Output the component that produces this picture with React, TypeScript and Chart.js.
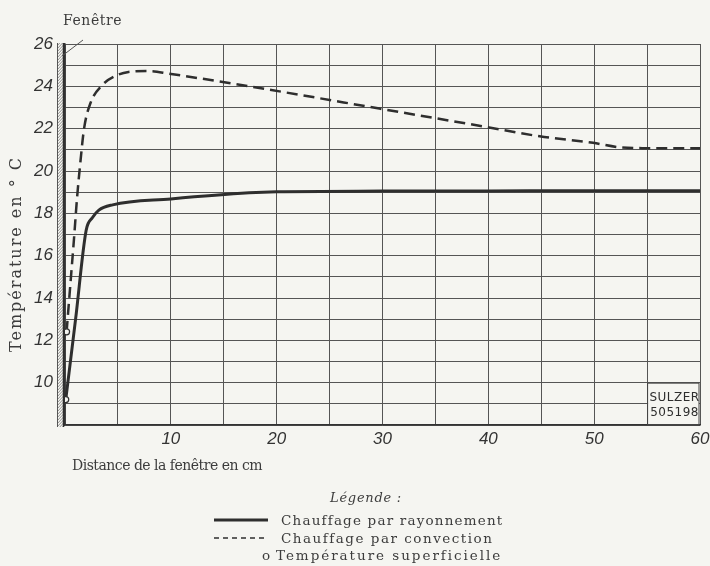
import React, { useEffect, useRef } from "react";
import { Chart, registerables } from "chart.js";

Chart.register(...registerables);

// Distance (cm) and temperature (°C)
const radiantX = [0.07, 1.0, 2.0, 2.6, 3.2, 4.5, 10, 17.4, 20, 30, 40, 50, 60];
const radiantY = [9.2, 13.0, 17.2, 17.8, 18.15, 18.4, 18.68, 18.97, 19.02, 19.05, 19.06, 19.07, 19.07];

const convX = [0.15, 0.5, 0.85, 1.15, 1.45, 1.8, 2.4, 3.5, 4.8, 6.0, 8.0, 9.8, 17.4, 29.7, 39.8, 44.85, 49.9, 52.4, 55, 60];
const convY = [12.4, 14.6, 16.8, 18.8, 20.4, 22.0, 23.2, 24.05, 24.5, 24.68, 24.72, 24.6, 24.0, 22.95, 22.08, 21.64, 21.33, 21.12, 21.08, 21.08];

const xTickLabels = [10, 20, 30, 40, 50, 60];
const yTickLabels = [10, 12, 14, 16, 18, 20, 22, 24, 26];

const titleWindow = "Fenêtre";
const titleY = "Température en ° C";
const titleX = "Distance de la fenêtre en cm";
const legendTitle = "Légende :";
const legendRadiant = "Chauffage par rayonnement";
const legendConv = "Chauffage par convection";
const legendSurface = "Température superficielle";
const stampTop = "SULZER";
const stampBottom = "505198";

const BG = "#f5f5f1";
const INK = "#2e2e2e";
const TEXT = "#3c3c3c";

function fitText(ctx: CanvasRenderingContext2D, text: string, x: number, y: number, font: string, width: number) {
  ctx.font = font;
  (ctx as any).letterSpacing = "0px";
  const w = ctx.measureText(text).width;
  const ls = Math.max(-1, (width - w) / text.length);
  (ctx as any).letterSpacing = ls + "px";
  ctx.fillText(text, x, y);
  (ctx as any).letterSpacing = "0px";
}

const decorPlugin = {
  id: "decor",
  beforeDraw(chart: any) {
    const ctx = chart.ctx;
    ctx.save();
    ctx.fillStyle = BG;
    ctx.fillRect(0, 0, chart.width, chart.height);
    ctx.restore();
  },
  beforeDatasetsDraw(chart: any) {
    const ctx = chart.ctx;
    const xs = chart.scales.x;
    const ys = chart.scales.y;
    const l = xs.getPixelForValue(55);
    const r = xs.getPixelForValue(60);
    const t = ys.getPixelForValue(10);
    const b = ys.getPixelForValue(8);
    ctx.save();
    ctx.fillStyle = BG;
    ctx.fillRect(l + 1, t + 1, r - l - 2, b - t - 2);
    ctx.strokeStyle = "#444";
    ctx.lineWidth = 1;
    ctx.strokeRect(l + 0.5, t + 0.5, r - l - 1.5, b - t - 1);
    ctx.fillStyle = INK;
    ctx.font = "12px 'DejaVu Sans'";
    ctx.textAlign = "center";
    ctx.textBaseline = "middle";
    (ctx as any).letterSpacing = "0.5px";
    ctx.fillText(stampTop, (l + r) / 2 + 1, t + 15);
    ctx.fillText(stampBottom, (l + r) / 2 + 1, t + 30);
    ctx.restore();
  },
  afterDraw(chart: any) {
    const ctx = chart.ctx;
    const area = chart.chartArea;
    ctx.save();
    // window wall (hatched strip)
    const wl = area.left - 8;
    const wr = area.left - 1.5;
    const wt = area.top - 1;
    const wb = area.bottom + 2;
    ctx.beginPath();
    ctx.rect(wl, wt, wr - wl, wb - wt);
    ctx.save();
    ctx.clip();
    ctx.strokeStyle = "#777";
    ctx.lineWidth = 0.8;
    for (let y = wt - 10; y < wb + 10; y += 3) {
      ctx.beginPath();
      ctx.moveTo(wl, y + 7);
      ctx.lineTo(wr, y);
      ctx.stroke();
    }
    ctx.restore();
    ctx.strokeStyle = "#555";
    ctx.lineWidth = 1;
    ctx.beginPath();
    ctx.moveTo(wl + 0.5, wt);
    ctx.lineTo(wl + 0.5, wb);
    ctx.stroke();
    ctx.strokeStyle = INK;
    ctx.lineWidth = 1.5;
    ctx.beginPath();
    ctx.moveTo(wr, wt);
    ctx.lineTo(wr, wb);
    ctx.stroke();
    // pointer line to "Fenêtre"
    ctx.strokeStyle = "#555";
    ctx.lineWidth = 1;
    ctx.beginPath();
    ctx.moveTo(area.left - 3, area.top + 12);
    ctx.lineTo(area.left + 18, area.top - 4);
    ctx.stroke();

    ctx.fillStyle = TEXT;
    ctx.textAlign = "left";
    ctx.textBaseline = "alphabetic";
    fitText(ctx, titleWindow, 63, 25, "14px 'DejaVu Serif'", 59);
    fitText(ctx, titleX, 72, 470, "14px 'DejaVu Serif'", 190);

    ctx.save();
    ctx.translate(21, 352);
    ctx.rotate(-Math.PI / 2);
    fitText(ctx, titleY, 0, 0, "16px 'DejaVu Serif'", 196);
    ctx.restore();

    // legend
    fitText(ctx, legendTitle, 330, 502, "italic 13px 'DejaVu Serif'", 72);
    ctx.strokeStyle = INK;
    ctx.lineWidth = 3;
    ctx.beginPath();
    ctx.moveTo(214, 520);
    ctx.lineTo(268, 520);
    ctx.stroke();
    ctx.lineWidth = 1.3;
    ctx.setLineDash([5, 4]);
    ctx.beginPath();
    ctx.moveTo(214, 538);
    ctx.lineTo(268, 538);
    ctx.stroke();
    ctx.setLineDash([]);
    fitText(ctx, legendRadiant, 281, 525, "13.5px 'DejaVu Serif'", 222);
    fitText(ctx, legendConv, 281, 543, "13.5px 'DejaVu Serif'", 212);
    ctx.font = "13.5px 'DejaVu Serif'";
    ctx.fillText("o", 262, 560);
    fitText(ctx, legendSurface, 276, 560, "13.5px 'DejaVu Serif'", 226);
    ctx.restore();
  },
};

export default function App() {
  const ref = useRef<HTMLCanvasElement | null>(null);
  useEffect(() => {
    if (!ref.current) return;
    const radiant = radiantX.map((x, i) => ({ x, y: radiantY[i] }));
    const conv = convX.map((x, i) => ({ x, y: convY[i] }));
    const marker = (c: any) => (c.dataIndex === 0 ? 3 : 0);
    const chart = new Chart(ref.current, {
      type: "line",
      data: {
        datasets: [
          {
            label: legendRadiant,
            data: radiant,
            borderColor: INK,
            borderWidth: 3,
            cubicInterpolationMode: "monotone",
            pointRadius: marker,
            pointBackgroundColor: BG,
            pointBorderColor: INK,
            pointBorderWidth: 1.2,
          },
          {
            label: legendConv,
            data: conv,
            borderColor: INK,
            borderWidth: 2.5,
            borderDash: [11, 6],
            cubicInterpolationMode: "monotone",
            pointRadius: marker,
            pointBackgroundColor: BG,
            pointBorderColor: INK,
            pointBorderWidth: 1.2,
          },
        ],
      },
      options: {
        animation: false,
        responsive: false,
        devicePixelRatio: 1,
        layout: { padding: { top: 44, right: 10, left: 0, bottom: 0 } },
        plugins: { legend: { display: false }, tooltip: { enabled: false } },
        scales: {
          x: {
            type: "linear",
            min: 0,
            max: 60,
            afterFit: (s: any) => {
              s.height = 141;
              s.paddingRight = 0;
            },
            ticks: {
              stepSize: 5,
              autoSkip: false,
              maxRotation: 0,
              padding: 4,
              color: "#333",
              font: { family: "'Liberation Sans'", size: 17, style: "italic" },
              callback: (v: any) => (xTickLabels.includes(Number(v)) ? String(v) : ""),
            },
            grid: { color: "#555", lineWidth: 1, drawTicks: false },
            border: { color: "#333", width: 1.5 },
          },
          y: {
            type: "linear",
            min: 8,
            max: 26,
            afterFit: (s: any) => {
              s.width = 65;
            },
            ticks: {
              stepSize: 1,
              autoSkip: false,
              padding: 12,
              color: "#333",
              font: { family: "'Liberation Sans'", size: 17, style: "italic" },
              callback: (v: any) => (yTickLabels.includes(Number(v)) ? String(v) : ""),
            },
            grid: { color: "#555", lineWidth: 1, drawTicks: false },
            border: { color: "#333", width: 1.5 },
          },
        },
      },
      plugins: [decorPlugin],
    } as any);
    return () => chart.destroy();
  }, []);
  return (
    <div style={{ position: "absolute", left: 0, top: 0, width: 710, height: 566 }}>
      <canvas ref={ref} width={710} height={566} style={{ width: 710, height: 566, display: "block" }} />
    </div>
  );
}
